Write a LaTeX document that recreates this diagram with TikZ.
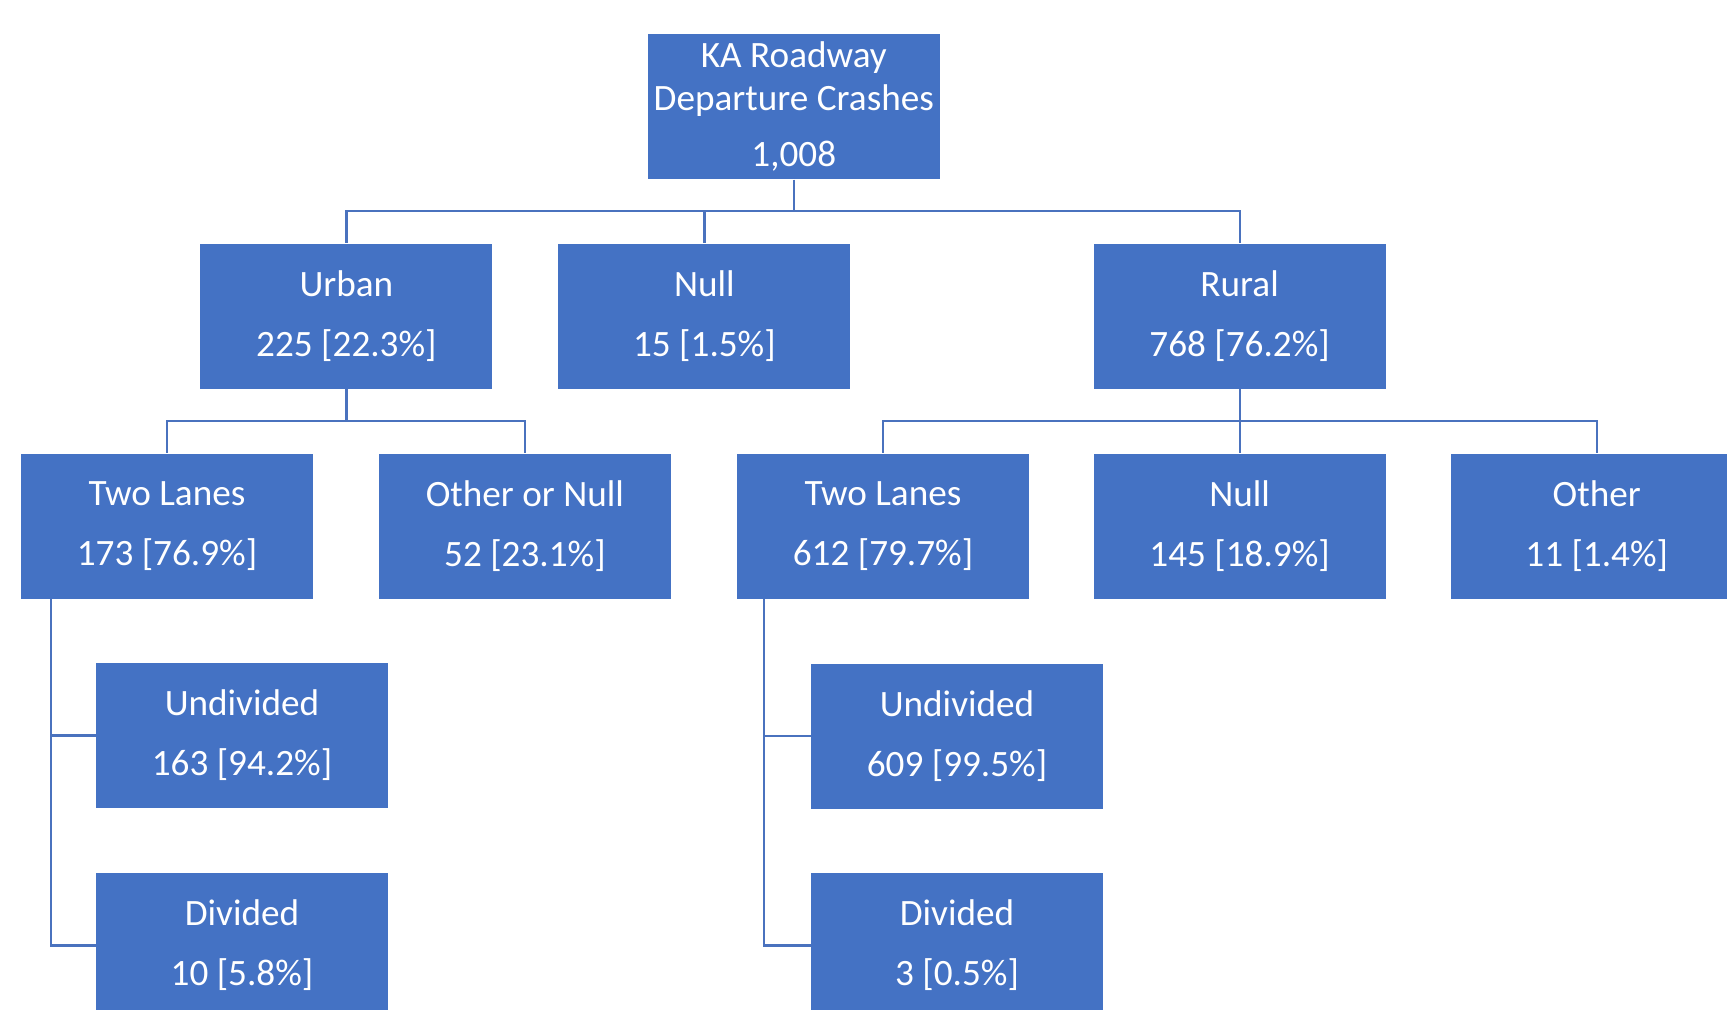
\documentclass[tikz,border=0pt]{standalone}
\usepackage{fontspec}
\setmainfont{Carlito}
\definecolor{boxblue}{HTML}{4472C4}
\definecolor{linkblue}{HTML}{4A72BE}
\begin{document}
\begin{tikzpicture}[x=0.5pt,y=-0.5pt,
  box/.style={fill=boxblue, draw=none, text=white, minimum width=146pt, minimum height=72.5pt,
    inner sep=0pt, align=center, font=\fontsize{18.6}{21.5}\selectfont},
  conn/.style={draw=linkblue, line width=1.1pt}]
\useasboundingbox (0,0) rectangle (1727,1009);
\clip (0,0) rectangle (1727,1009);
\fill[white] (0,0) rectangle (1727,1009);
% level 1
\node[box] (top) at (793.8,106.8) {KA Roadway\\Departure Crashes\\[6.5pt]1,008};
% level 2
\node[box] (urban) at (346.4,316) {Urban\\[8.5pt]225 [22.3\%]};
\node[box] (null1) at (704.4,316) {Null\\[8.5pt]15 [1.5\%]};
\node[box] (rural) at (1239.6,316) {Rural\\[8.5pt]768 [76.2\%]};
% level 3
\node[box] (twoL) at (167,526) {Two Lanes\\[8.5pt]173 [76.9\%]};
\node[box] (oon) at (524.9,526) {Other or Null\\[8.5pt]52 [23.1\%]};
\node[box] (twoR) at (883,526) {Two Lanes\\[8.5pt]612 [79.7\%]};
\node[box] (null2) at (1239.6,526) {Null\\[8.5pt]145 [18.9\%]};
\node[box] (other) at (1596.7,526) {Other\\[8.5pt]11 [1.4\%]};
% level 4
\node[box] (undL) at (242,735.5) {Undivided\\[8.5pt]163 [94.2\%]};
\node[box] (divL) at (242,945.5) {Divided\\[8.5pt]10 [5.8\%]};
\node[box] (undR) at (957,736) {Undivided\\[8.5pt]609 [99.5\%]};
\node[box] (divR) at (957,945.5) {Divided\\[8.5pt]3 [0.5\%]};
% connectors
\coordinate (b1) at (793.8,211);
\coordinate (b2) at (346.4,421);
\coordinate (b3) at (1239.6,421);
\draw[conn] (top.south) -- (b1);
\draw[conn] (b1) -| (urban.north);
\draw[conn] (b1) -| (null1.north);
\draw[conn] (b1) -| (rural.north);
\draw[conn] (urban.south) -- (b2);
\draw[conn] (b2) -| (twoL.north);
\draw[conn] (b2) -| (oon.north);
\draw[conn] (rural.south) -- (b3);
\draw[conn] (b3) -| (twoR.north);
\draw[conn] (b3) -| (null2.north);
\draw[conn] (b3) -| (other.north);
\coordinate (sL) at ([xshift=15pt]twoL.south west);
\coordinate (sR) at ([xshift=13.5pt]twoR.south west);
\draw[conn] (sL) |- (undL.west);
\draw[conn] (sL) |- (divL.west);
\draw[conn] (sR) |- (undR.west);
\draw[conn] (sR) |- (divR.west);
\end{tikzpicture}
\end{document}
